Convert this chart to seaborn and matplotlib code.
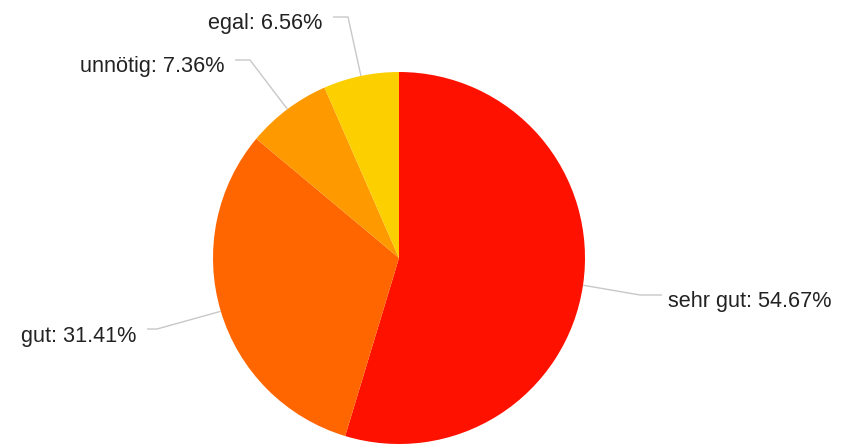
import numpy as np
import matplotlib
matplotlib.use("Agg")
import matplotlib.pyplot as plt
import seaborn as sns

categories = ["sehr gut", "gut", "unnötig", "egal"]
values = [54.67, 31.41, 7.36, 6.56]
colors = ["#ff1100", "#ff6600", "#ff9900", "#fcd000"]

sns.set_style("white")
plt.rcParams["font.family"] = ["Liberation Sans", "DejaVu Sans"]

W, H = 846, 448
fig = plt.figure(figsize=(W / 100, H / 100), dpi=100)
ax = fig.add_axes([0, 0, 1, 1])

cx, cy, r = 399, 190, 186
wedges, _ = ax.pie(values, colors=colors, startangle=90, counterclock=False,
                   center=(cx, cy), radius=r, wedgeprops=dict(linewidth=0),
                   frame=True)
ax.set_xlim(0, W)
ax.set_ylim(0, H)
ax.set_aspect("equal")
ax.axis("off")

# label layout: (elbow point, end point, text anchor (baseline), ha)
layout = [
    ((640, 153), (662, 153), (668, 140.7), "left"),
    ((157, 119), (147, 119), (136, 105.7), "right"),
    ((250, 388), (235, 388), (225, 376.3), "right"),
    ((348, 431), (333, 431), (322, 419.3), "right"),
]

for w, cat, val, (elb, end, txt, ha) in zip(wedges, categories, values, layout):
    ang = np.deg2rad((w.theta1 + w.theta2) / 2)
    ex, ey = cx + r * np.cos(ang), cy + r * np.sin(ang)
    ax.plot([ex, elb[0], end[0]], [ey, elb[1], end[1]], color="#c8c8c8",
            lw=1, solid_capstyle="butt")
    ax.text(txt[0], txt[1], f"{cat}: {val:.2f}%", ha=ha, va="baseline",
            fontsize=15.6, color="#222222")

fig.savefig("out.png", dpi=100)
